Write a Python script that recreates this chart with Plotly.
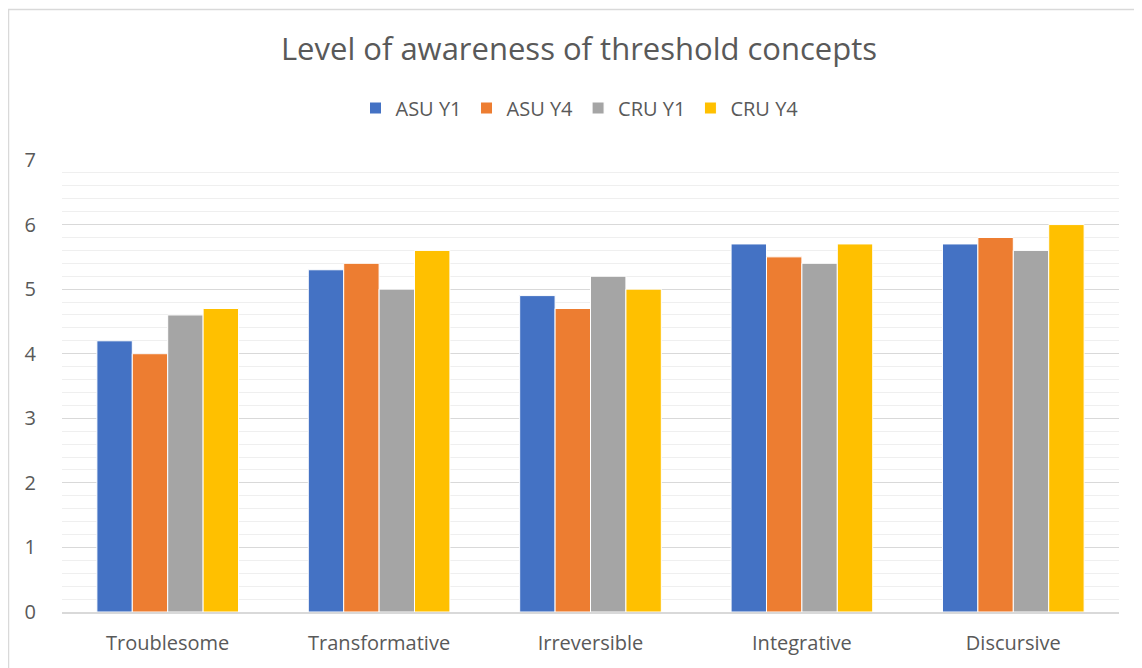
import plotly.graph_objects as go

categories = ["Troublesome", "Transformative", "Irreversible", "Integrative", "Discursive"]
asu_y1 = [4.2, 5.3, 4.9, 5.7, 5.7]
asu_y4 = [4.0, 5.4, 4.7, 5.5, 5.8]
cru_y1 = [4.6, 5.0, 5.2, 5.4, 5.6]
cru_y4 = [4.7, 5.6, 5.0, 5.7, 6.0]
series_names = ["ASU Y1", "ASU Y4", "CRU Y1", "CRU Y4"]
series_values = [asu_y1, asu_y4, cru_y1, cru_y4]
colors = ["#4472C4", "#ED7D31", "#A5A5A5", "#FFC000"]
y_ticks = [0, 1, 2, 3, 4, 5, 6, 7]

FONT = "Open Sans"
TXT = "#595959"
OFF = 7  # page body offset

L, T, R, B = 61 - OFF, 159 - OFF, 1142 - (1118 - OFF), 668 - (611 - OFF)
PH = 668 - T - B
PW = 1142 - L - R

fig = go.Figure()
for name, vals, col in zip(series_names, series_values, colors):
    fig.add_trace(go.Bar(
        x=categories, y=vals, name=name,
        marker=dict(color=col, line=dict(color="white", width=1)),
    ))

fig.update_layout(
    width=1142, height=668,
    margin=dict(l=L, r=R, t=T, b=B),
    paper_bgcolor="white", plot_bgcolor="white",
    barmode="group", bargap=0.33, bargroupgap=0,
    font=dict(family=FONT, color=TXT, size=20),
    title=dict(text="Level of awareness of threshold concepts",
               x=0.5, xanchor="center", y=1 - (48 - OFF) / 668, yanchor="middle",
               font=dict(family=FONT, size=31, color=TXT)),
    legend=dict(orientation="h", x=0.5 - 11 / PW, xanchor="center",
                y=(611 - 107) / PH, yanchor="middle",
                font=dict(family=FONT, size=20, color=TXT),
                itemwidth=30, traceorder="normal"),
    xaxis=dict(showgrid=False, showline=True, linecolor="#D9D9D9", linewidth=1.5,
               ticks="", ticklabelstandoff=12,
               tickfont=dict(family=FONT, size=20, color=TXT)),
    yaxis=dict(range=[0, 7], tickvals=y_ticks, showgrid=True,
               gridcolor="#D9D9D9", gridwidth=1.3, zeroline=False,
               showline=False, ticks="", ticklabelstandoff=25,
               tickfont=dict(family=FONT, size=20, color=TXT),
               minor=dict(dtick=0.2, showgrid=True, gridcolor="#EFEFEF", gridwidth=1.2)),
    shapes=[dict(type="rect", xref="paper", yref="paper",
                 x0=(7.5 - 61) / PW, x1=1.2, y0=-0.3, y1=(611 - 8.5) / PH,
                 line=dict(color="#D9D9D9", width=1.5), fillcolor="rgba(0,0,0,0)",
                 layer="below")],
)

fig.write_html("out.html")
